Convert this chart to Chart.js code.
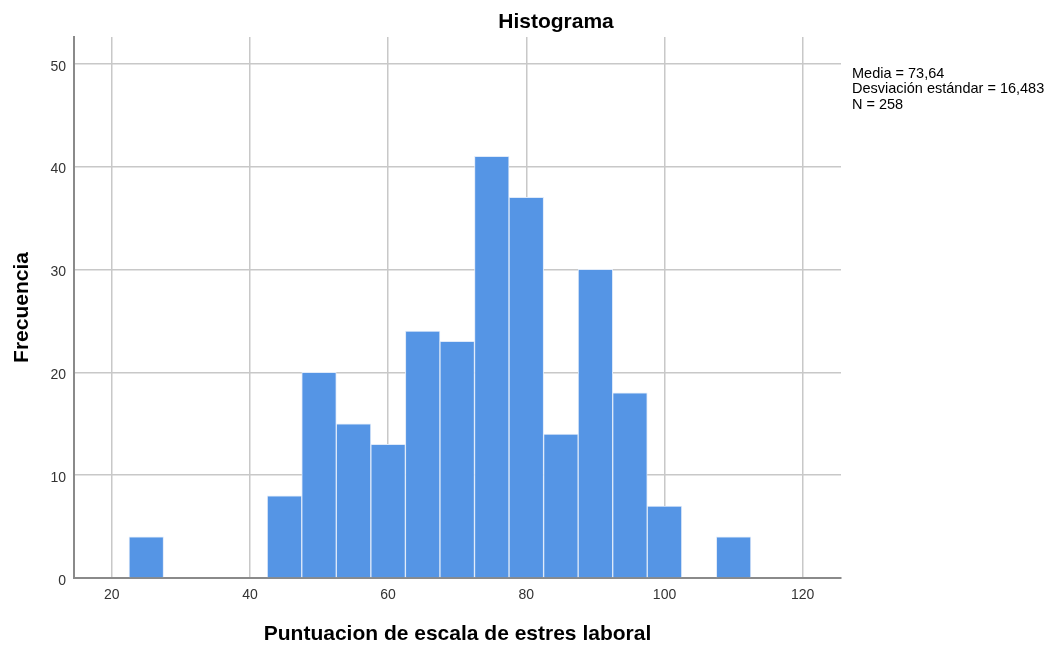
<!DOCTYPE html>
<html lang="es">
<head>
  <meta charset="UTF-8">
  <title>Histograma</title>
  <script src="https://cdn.jsdelivr.net/npm/chart.js"></script>
  <style>
    body {
      margin: 0;
      background: #fff;
    }
    #wrap {
      width: 1047px;
      height: 645px;
    }
  </style>
</head>
<body>
  <div id="wrap"><canvas id="histChart"></canvas></div>

  <script>
    // Histogram bins (centre of each 5-point class) and counts
    const binCenters = [25, 30, 35, 40, 45, 50, 55, 60, 65, 70, 75, 80, 85, 90, 95, 100, 105, 110];
    const frequencies = [4, 0, 0, 0, 8, 20, 15, 13, 24, 23, 41, 37, 14, 30, 18, 7, 0, 4];
    const xTicks = [20, 40, 60, 80, 100, 120];
    const yTicks = [0, 10, 20, 30, 40, 50];
    const statsLines = ['Media = 73,64', 'Desviación estándar = 16,483', 'N = 258'];

    const FONT = "'Liberation Sans', Arial, sans-serif";

    // Title and the summary box on the right
    const textPlugin = {
      id: 'spssText',
      afterDraw(chart) {
        const c = chart.ctx;
        const area = chart.chartArea;
        c.save();
        c.fillStyle = '#000';
        c.textAlign = 'center';
        c.textBaseline = 'alphabetic';
        c.font = 'bold 21px ' + FONT;
        c.fillText('Histograma', 556, 28);

        c.textAlign = 'left';
        c.font = '14.5px ' + FONT;
        statsLines.forEach((line, i) => {
          c.fillText(line, area.right + 11, 77.5 + i * 15.5);
        });
        c.restore();
      }
    };

    const ctx = document.getElementById('histChart').getContext('2d');
    const histChart = new Chart(ctx, {
      type: 'bar',
      data: {
        datasets: [{
          label: 'Frecuencia',
          data: binCenters.map((x, i) => ({ x: x, y: frequencies[i] })),
          backgroundColor: '#5595e5',
          borderColor: '#dfeaf9',
          borderWidth: 1,
          categoryPercentage: 1,
          barPercentage: 1
        }]
      },
      options: {
        responsive: true,
        maintainAspectRatio: false,
        animation: false,
        layout: {
          padding: { top: 37, right: 206, bottom: 0, left: 0 }
        },
        plugins: {
          legend: { display: false },
          tooltip: { enabled: false }
        },
        scales: {
          x: {
            type: 'linear',
            offset: false,
            min: 14.54,
            max: 125.54,
            afterBuildTicks: s => { s.ticks = xTicks.map(v => ({ value: v })); },
            afterFit: s => { s.height = 67; },
            grid: { color: '#c8c8c8', lineWidth: 1.5, drawTicks: false, offset: false },
            border: { color: '#8a8a8a', width: 2 },
            ticks: {
              padding: 9,
              color: '#333',
              font: { family: FONT, size: 14 },
              maxRotation: 0
            },
            title: {
              display: true,
              text: 'Puntuacion de escala de estres laboral',
              color: '#000',
              font: { family: FONT, size: 21, weight: 'bold' },
              padding: { top: 0, bottom: -2 }
            }
          },
          y: {
            min: 0,
            max: 52.6,
            afterBuildTicks: s => { s.ticks = yTicks.map(v => ({ value: v })); },
            afterFit: s => { s.width = 74; },
            grid: { color: '#c8c8c8', lineWidth: 1.5, drawTicks: false },
            border: { color: '#8a8a8a', width: 2 },
            ticks: {
              padding: 8,
              labelOffset: 3,
              color: '#333',
              font: { family: FONT, size: 14 }
            },
            title: {
              display: true,
              text: 'Frecuencia',
              color: '#000',
              font: { family: FONT, size: 21, weight: 'bold' },
              padding: { top: 10, bottom: 0 }
            }
          }
        }
      },
      plugins: [textPlugin]
    });
  </script>
</body>
</html>
